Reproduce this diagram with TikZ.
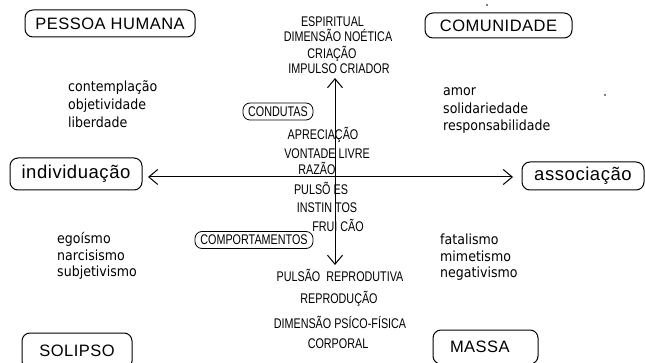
\documentclass[tikz,border=0pt]{standalone}
\usepackage{fontspec}
\setmainfont{Liberation Sans}
\newfontfamily\polefont[LetterSpace=3]{Liberation Sans}
\newfontfamily\narrowfont[FakeStretch=0.77]{Liberation Sans}
\newfontfamily\wordfont[FakeStretch=0.9]{DejaVu Sans}
\tikzstyle{pole} = [draw, rectangle, rounded corners=8pt, line width=1pt, inner sep=0pt, font=\polefont\fontsize{16.5}{18}\selectfont]
\tikzstyle{smallpole} = [pole, font=\polefont\fontsize{18.5}{20}\selectfont]
\tikzstyle{tag} = [draw, rectangle, rounded corners=7pt, line width=0.8pt, inner sep=0pt, minimum height=17pt, font=\narrowfont\fontsize{14}{16}\selectfont]
\tikzstyle{caps} = [inner sep=0pt, anchor=base, font=\narrowfont\fontsize{14}{16}\selectfont]
\tikzstyle{word} = [inner sep=0pt, anchor=base west, font=\wordfont\fontsize{14}{16}\selectfont]
\tikzstyle{axis} = [line width=1pt, <->, >={Straight Barb[length=9pt, width=15pt]}]
\usetikzlibrary{positioning, arrows.meta}

\begin{document}
\begin{tikzpicture}[x=1pt, y=-1pt]
	\useasboundingbox (0,0) rectangle (645,363);
	\clip (0,0) rectangle (645,363);
	%poles
	\node[pole, minimum width=170pt, minimum height=27pt] (pessoa) at (110,23.5) {PESSOA HUMANA};
	\node[pole, minimum width=147pt, minimum height=25pt] (comunidade) at (498.5,25.5) {COMUNIDADE};
	\node[smallpole, minimum width=132pt, minimum height=32pt] (indiv) at (76,174) {individuação};
	\node[smallpole, minimum width=122pt, minimum height=28pt] (assoc) at (583,176) {associação};
	\node[pole, minimum width=110pt, minimum height=36pt] (solipso) at (77,351) {SOLIPSO};
	\node[pole, minimum width=105pt, minimum height=34pt, text width=71pt] (massa) at (485.5,347) {MASSA};
	
	%tags
	\node[tag, minimum width=70pt] (condutas) at (278,111.5) {CONDUTAS};
	\node[tag, minimum width=118pt] (comport) at (254,240) {COMPORTAMENTOS};
	
	%upper column
	\node[caps] (espiritual) at (332.5,27) {ESPIRITUAL};
	\node[caps] (noetica) at (338,42) {DIMENSÃO NOÉTICA};
	\node[caps] (criacao) at (332,58.5) {CRIAÇÃO};
	\node[caps] (impulso) at (339,74) {IMPULSO CRIADOR};
	
	%middle column
	\node[caps] (apreciacao) at (323,140) {APRECIAÇÃO};
	\node[caps] (vontade) at (327,159) {VONTADE LIVRE};
	\node[caps] (razao) at (317,175) {RAZÃO};
	\node[caps] (pulsoes) at (321,195) {PULSÕ ES};
	\node[caps] (instintos) at (327,213) {INSTIN TOS};
	\node[caps] (fruicao) at (338,232) {FRUI CÃO};
	
	%lower column
	\node[caps] (reprodutiva) at (340,282) {PULSÃO\ \ REPRODUTIVA};
	\node[caps] (reproducao) at (339,303) {REPRODUÇÃO};
	\node[caps] (psicofisica) at (340,328) {DIMENSÃO PSÍCO-FÍSICA};
	\node[caps] (corporal) at (338,348) {CORPORAL};
	
	%lists
	\node[word] (contemp) at (68,92) {contemplação};
	\node[word] (objet) at (68,110) {objetividade};
	\node[word] (liber) at (68,128) {liberdade};
	\node[word] (amor) at (443,96) {amor};
	\node[word] (solid) at (443,113.5) {solidariedade};
	\node[word] (respons) at (443,131) {responsabilidade};
	\node[word] (ego) at (57,244) {egoísmo};
	\node[word] (narc) at (57,260.5) {narcisismo};
	\node[word] (subj) at (57,277) {subjetivismo};
	\node[word] (fatal) at (440,245) {fatalismo};
	\node[word] (mimet) at (440,262) {mimetismo};
	\node[word] (negat) at (440,278) {negativismo};
	
	%axes
	\coordinate (top) at (335,78);
	\coordinate (bottom) at (335,265);
	\coordinate (westend) at (148,177);
	\coordinate (eastend) at (513,177);
	\draw[axis] (bottom) -- (top);
	\draw[axis] (westend) -- (eastend);
	
	%dots
	\fill (487,5) circle (0.8pt);
	\fill (605,95) circle (0.8pt);
\end{tikzpicture}
\end{document}
